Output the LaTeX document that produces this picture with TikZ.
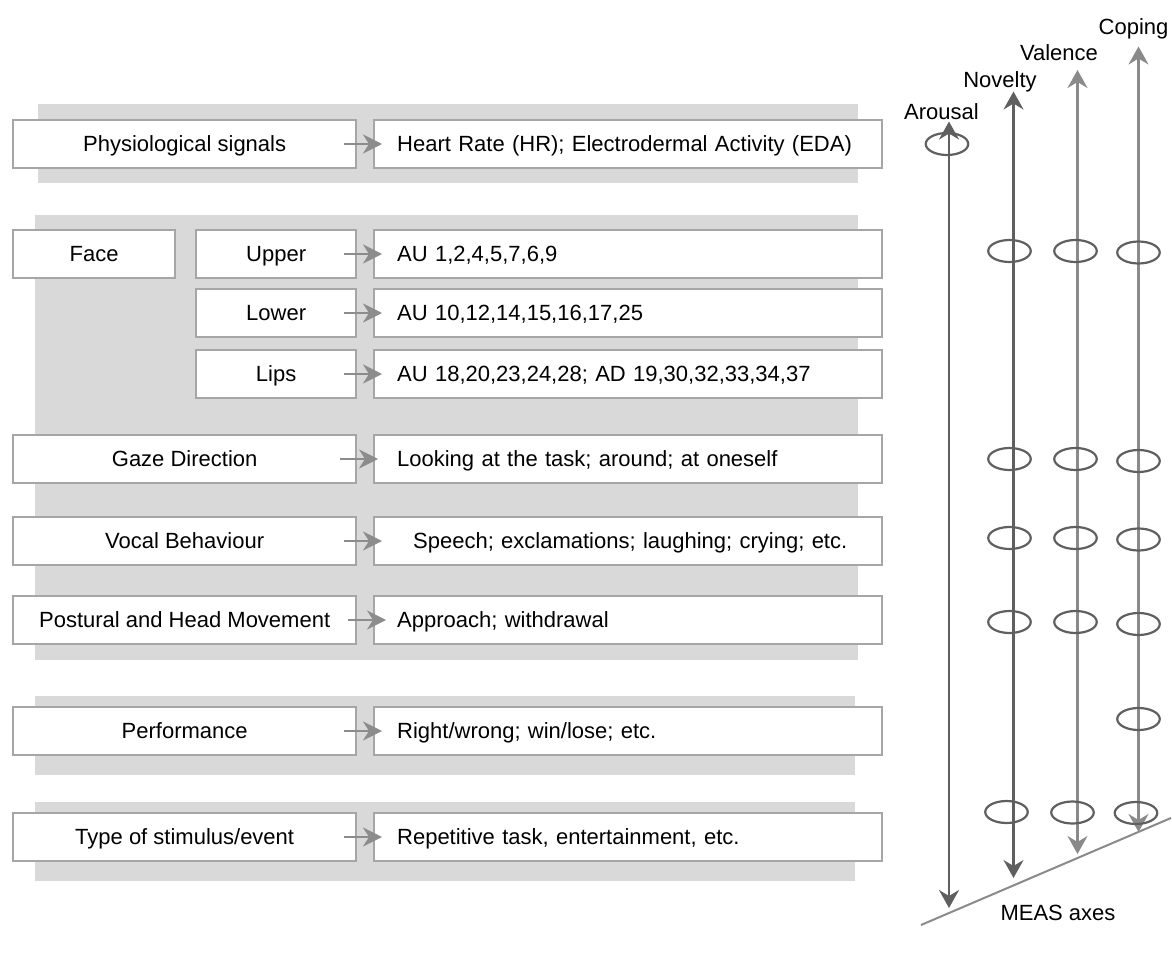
\documentclass[tikz,border=0pt]{standalone}
\usepackage{fontspec}
\setmainfont{Liberation Sans}
\usetikzlibrary{arrows.meta,shapes.geometric}

\definecolor{bandGray}{HTML}{D9D9D9}
\definecolor{boxGray}{HTML}{A6A6A6}
\definecolor{arrowGray}{HTML}{8C8C8C}
\definecolor{axisDark}{HTML}{5F5F5F}
\definecolor{axisLight}{HTML}{8A8A8A}

\tikzset{
  cue/.style={draw=boxGray, line width=2.3pt, fill=white, minimum height=48pt,
    inner sep=0pt, text height=15.5pt, text depth=0pt, anchor=west},
  signal/.style={cue, text width=462pt, inner xsep=23pt, align=left},
  feed/.style={draw=arrowGray, line width=2.2pt, -{Stealth[length=19pt,width=19pt,inset=6pt]}},
  axisLine/.style={line width=2.2pt, {Stealth[length=18pt,width=20pt,inset=6pt]}-{Stealth[length=18pt,width=20pt,inset=6pt]}},
  ring/.style={ellipse, draw=axisDark, line width=2.2pt, minimum width=42.5pt, minimum height=22pt, inner sep=0pt},
  axisName/.style={inner sep=0pt, text height=15.5pt, text depth=0pt}
}

\begin{document}
\begin{tikzpicture}[x=1pt, y=-1pt, every node/.style={font=\fontsize{22pt}{26pt}\selectfont}]
        \useasboundingbox (0,0) rectangle (1172,960);

        % --- Draw gray bands ---
        \fill[bandGray] (38,104) rectangle (858,183);
        \fill[bandGray] (35,215) rectangle (858,660);
        \fill[bandGray] (35,696) rectangle (855,775);
        \fill[bandGray] (35,802) rectangle (855,881);
        % ---

        % --- Draw cue boxes ---
        \node[cue, minimum width=343pt] (physSig) at (12,144) {Physiological signals};
        \node[signal] (heartRate) at (373,144) {Heart Rate (HR); Electrodermal Activity (EDA)};

        \node[cue, minimum width=162pt] (face) at (12,254) {Face};
        \node[cue, minimum width=160pt] (upper) at (195,254) {Upper};
        \node[signal] (auUpper) at (373,254) {AU 1,2,4,5,7,6,9};
        \node[cue, minimum width=160pt] (lower) at (195,313) {Lower};
        \node[signal] (auLower) at (373,313) {AU 10,12,14,15,16,17,25};
        \node[cue, minimum width=160pt] (lips) at (195,374) {Lips};
        \node[signal] (auLips) at (373,374) {AU 18,20,23,24,28; AD 19,30,32,33,34,37};

        \node[cue, minimum width=343pt] (gaze) at (12,459) {Gaze Direction};
        \node[signal] (looking) at (373,459) {Looking at the task; around; at oneself};
        \node[cue, minimum width=343pt] (vocal) at (12,541) {Vocal Behaviour};
        \node[signal] (speech) at (373,541) {\hspace{16pt}Speech; exclamations; laughing; crying; etc.};
        \node[cue, minimum width=343pt] (postural) at (12,620) {Postural and Head Movement};
        \node[signal] (approach) at (373,620) {Approach; withdrawal};

        \node[cue, minimum width=343pt] (perf) at (12,731) {Performance};
        \node[signal] (rightWrong) at (373,731) {Right/wrong; win/lose; etc.};

        \node[cue, minimum width=343pt] (stimType) at (12,837) {Type of stimulus/event};
        \node[signal] (repTask) at (373,837) {Repetitive task, entertainment, etc.};
        % ---

        % --- Draw arrows between boxes ---
        \draw[feed] ([xshift=-13pt]physSig.east) -- ([xshift=9pt]heartRate.west);
        \draw[feed] ([xshift=-13pt]upper.east) -- ([xshift=9pt]auUpper.west);
        \draw[feed] ([xshift=-13pt]lower.east) -- ([xshift=9pt]auLower.west);
        \draw[feed] ([xshift=-13pt]lips.east) -- ([xshift=9pt]auLips.west);
        \draw[feed] ([xshift=-17pt]gaze.east) -- ([xshift=5pt]looking.west);
        \draw[feed] ([xshift=-13pt]vocal.east) -- ([xshift=9pt]speech.west);
        \draw[feed] ([xshift=-9pt]postural.east) -- ([xshift=13pt]approach.west);
        \draw[feed] ([xshift=-13pt]perf.east) -- ([xshift=9pt]rightWrong.west);
        \draw[feed] ([xshift=-13pt]stimType.east) -- ([xshift=9pt]repTask.west);
        % ---

        % --- Draw MEAS axes ---
        \coordinate (baseL) at (921,925);
        \coordinate (baseR) at (1171,818);
        \draw[axisLight, line width=2pt] (baseL) -- (baseR);
        \node[axisName] (measAxes) at (1058,912.5) {MEAS axes};

        \coordinate (arousalTop) at (949,121.5);
        \coordinate (arousalBot) at (949,908);
        \coordinate (noveltyTop) at (1013.5,91.5);
        \coordinate (noveltyBot) at (1013.5,878);
        \coordinate (valenceTop) at (1077.5,70);
        \coordinate (valenceBot) at (1077.5,854);
        \coordinate (copingTop) at (1138.5,46.5);
        \coordinate (copingBot) at (1138.5,832);
        \draw[axisLine, axisDark] (arousalTop) -- (arousalBot);
        \draw[axisLine, axisDark] (noveltyTop) -- (noveltyBot);
        \draw[axisLine, axisLight] (valenceTop) -- (valenceBot);
        \draw[axisLine, axisLight] (copingTop) -- (copingBot);

        \node[axisName] (arousal) at (941.5,111.5) {Arousal};
        \node[axisName] (novelty) at (1000,79.5) {Novelty};
        \node[axisName] (valence) at (1059,52.5) {Valence};
        \node[axisName] (coping) at (1133.5,26.5) {Coping};
        % ---

        % --- Draw appraisal rings on the axes ---
        \node[ring] (arPhys) at (947,144) {};

        \node[ring] (novUpper) at (1009.5,251) {};
        \node[ring] (valUpper) at (1075.5,251) {};
        \node[ring] (copUpper) at (1138.5,252.5) {};

        \node[ring] (novGaze) at (1009.5,459) {};
        \node[ring] (valGaze) at (1075.5,459) {};
        \node[ring] (copGaze) at (1138.5,461) {};

        \node[ring] (novVocal) at (1009.5,538) {};
        \node[ring] (valVocal) at (1075.5,538) {};
        \node[ring] (copVocal) at (1138.5,539.5) {};

        \node[ring] (novPost) at (1009.5,622) {};
        \node[ring] (valPost) at (1075.5,622) {};
        \node[ring] (copPost) at (1138.5,624) {};

        \node[ring] (copPerf) at (1138.5,719) {};

        \node[ring] (novType) at (1006.5,812) {};
        \node[ring] (valType) at (1072.5,812.5) {};
        \node[ring] (copType) at (1136,813) {};
        % ---
    \end{tikzpicture}
\end{document}
